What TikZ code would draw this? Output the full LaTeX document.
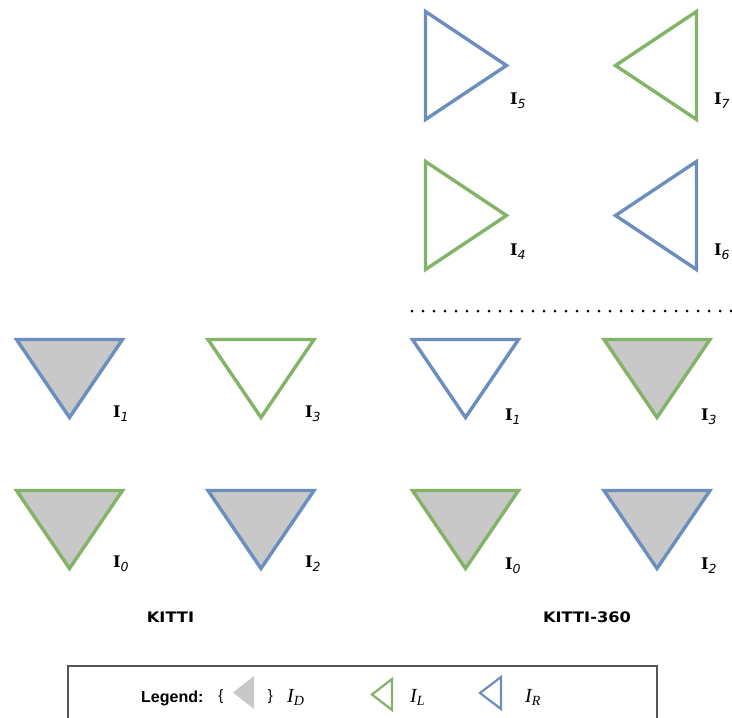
\documentclass[tikz,border=0pt]{standalone}
\usepackage{fontspec}
\usepackage{tikz}
\newfontfamily\labfont{DejaVu Serif}
\newfontfamily\subfont{DejaVu Sans}
\newfontfamily\kittifont[FakeStretch=1.12]{DejaVu Sans}
\newfontfamily\legfont{Liberation Sans}
\newfontfamily\idfont{Liberation Serif}
\definecolor{camblue}{HTML}{6C8EBF}
\definecolor{camgreen}{HTML}{82B366}
\definecolor{camshade}{HTML}{C8C8C8}
\definecolor{boxgray}{HTML}{555555}
\tikzset{
    tri/.style={line width=3.4pt, line join=miter},
    legtri/.style={line width=2.2pt, line join=miter},
    camlabel/.style={anchor=base west, inner sep=0pt},
    setname/.style={inner sep=0pt, font=\kittifont\bfseries\fontsize{14.5}{17}\selectfont},
    legtext/.style={anchor=base west, inner sep=0pt, font=\idfont\itshape\fontsize{20}{24}\selectfont},
}
\newcommand{\camid}[1]{{\fontsize{16}{19}\selectfont\labfont\bfseries I}\raisebox{-4.5pt}{\fontsize{12.5}{15}\selectfont\subfont\itshape #1}}
\newcommand{\legid}[1]{I\raisebox{-3.5pt}{\fontsize{14}{17}\selectfont #1}}

\begin{document}
\begin{tikzpicture}[x=1pt, y=-1pt]
    \useasboundingbox (0,0) rectangle (732,718);
    % side cameras (KITTI-360)
    \foreach \cx/\cy/\c in {425.5/65.5/camblue, 425.5/215.5/camgreen}
        \draw[tri, draw=\c] (\cx,\cy-54) -- (\cx+81,\cy) -- (\cx,\cy+54) -- cycle;
    \foreach \cx/\cy/\c in {696.5/65.5/camgreen, 696.5/215.5/camblue}
        \draw[tri, draw=\c] (\cx,\cy-54) -- (\cx-81,\cy) -- (\cx,\cy+54) -- cycle;
    \node[camlabel] (i5) at (510,104) {\camid{5}};
    \node[camlabel] (i7) at (714,104) {\camid{7}};
    \node[camlabel] (i4) at (510,255) {\camid{4}};
    \node[camlabel] (i6) at (714,255) {\camid{6}};

    \draw[line width=3pt, line cap=round, dash pattern=on 0pt off 11pt] (412,311) -- (732,311);

    % front cameras
    \foreach \cx/\ty/\c/\f in {69.5/339.5/camblue/camshade, 261/339.5/camgreen/white,
                              69.5/490.5/camgreen/camshade, 261/490.5/camblue/camshade,
                              465.5/339.5/camblue/white, 657/339.5/camgreen/camshade,
                              465.5/490.5/camgreen/camshade, 657/490.5/camblue/camshade}
        \draw[tri, draw=\c, fill=\f] (\cx-53,\ty) -- (\cx+53,\ty) -- (\cx,\ty+78) -- cycle;
    \node[camlabel] (k1) at (113,417) {\camid{1}};
    \node[camlabel] (k3) at (305,417) {\camid{3}};
    \node[camlabel] (k0) at (113,567) {\camid{0}};
    \node[camlabel] (k2) at (305,567) {\camid{2}};
    \node[camlabel] (c1) at (505,420) {\camid{1}};
    \node[camlabel] (c3) at (701,420) {\camid{3}};
    \node[camlabel] (c0) at (505,569) {\camid{0}};
    \node[camlabel] (c2) at (701,569) {\camid{2}};

    \node[setname] (kitti) at (170.5,617) {KITTI};
    \node[setname] (kitti360) at (587,617) {KITTI-360};

    % legend
    \draw[boxgray, line width=1.8pt] (68,725) -- (68,666) -- (657,666) -- (657,725);
    \node[anchor=base west, inner sep=0pt, font=\legfont\bfseries\fontsize{16}{19}\selectfont] (legend) at (141,702) {Legend:};
    \node[inner sep=0pt, font=\legfont\fontsize{15}{18}\selectfont] (lbrace) at (221,697) {\{};
    \fill[camshade] (254,676) -- (233,692.5) -- (254,709) -- cycle;
    \node[inner sep=0pt, font=\legfont\fontsize{15}{18}\selectfont] (rbrace) at (270.5,697) {\}};
    \node[legtext] (ld) at (287,702) {\legid{D}};
    \draw[legtri, camgreen] (392,679) -- (372,694.5) -- (392,710) -- cycle;
    \node[legtext] (ll) at (410,702) {\legid{L}};
    \draw[legtri, camblue] (501,677) -- (480,693) -- (501,709) -- cycle;
    \node[legtext] (lr) at (525,702) {\legid{R}};
\end{tikzpicture}
\end{document}
